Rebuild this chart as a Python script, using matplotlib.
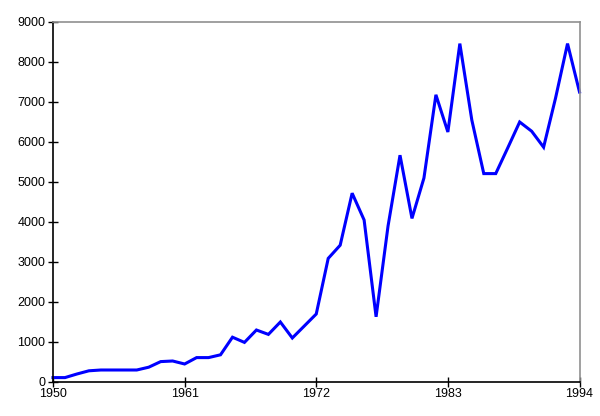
import matplotlib
matplotlib.use("Agg")
import matplotlib.pyplot as plt

years = list(range(1950, 1995))
values = [110, 110, 200, 280, 300, 300, 300, 300, 370, 510,
          525, 450, 610, 610, 680, 1120, 990, 1300, 1190, 1500,
          1100, 1400, 1700, 3090, 3420, 4720, 4050, 1630, 3900, 5670,
          4090, 5100, 7180, 6250, 8460, 6550, 5210, 5210, 5850, 6500,
          6270, 5870, 7100, 8460, 7250]
x_ticks = [1950, 1961, 1972, 1983, 1994]
y_ticks = [0, 1000, 2000, 3000, 4000, 5000, 6000, 7000, 8000, 9000]

plt.rcParams['font.family'] = ['Liberation Sans', 'DejaVu Sans']

fig = plt.figure(figsize=(6.0, 4.16), dpi=100)
ax = fig.add_axes([53/600, 34/416, (579.5-53)/600, (382-22)/416])
ax.plot(years, values, color='#0000FF', lw=2.2, solid_joinstyle='miter', clip_on=False)
ax.set_xlim(1950, 1994)
ax.set_ylim(0, 9000)
ax.set_xticks(x_ticks)
ax.set_xticklabels([str(t) for t in x_ticks])
ax.set_yticks(y_ticks)
ax.set_yticklabels([str(t) for t in y_ticks])
ax.tick_params(axis='both', direction='inout', length=7, width=1, colors='black', labelsize=9, pad=2)
ax.tick_params(axis='x', pad=1)
for s in ['left', 'bottom']:
    ax.spines[s].set_color('black')
    ax.spines[s].set_linewidth(1.2)
for s in ['top', 'right']:
    ax.spines[s].set_color('#909090')
    ax.spines[s].set_linewidth(1.2)
fig.savefig('out.png', dpi=100, facecolor='white')
